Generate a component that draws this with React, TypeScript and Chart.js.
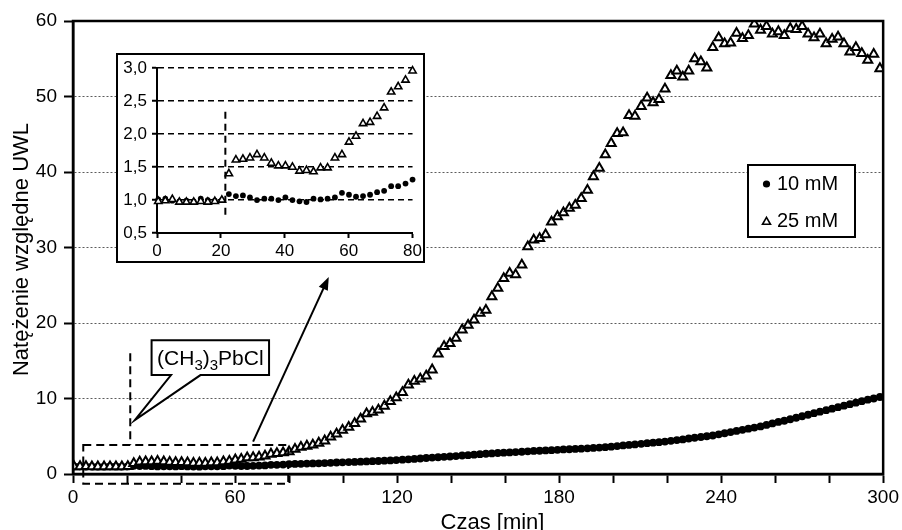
import React, { useEffect, useRef } from "react";
import { Chart, registerables } from "chart.js";

Chart.register(...registerables);

const FONT = "'Liberation Sans', Arial, sans-serif";

// Sample times [min]
const TIME_MIN = [
  0.4, 2.6, 4.8, 7.0, 9.2, 11.5, 13.7, 15.9, 18.1, 20.3,
  22.5, 24.7, 26.9, 29.1, 31.3, 33.6, 35.8, 38.0, 40.2, 42.4,
  44.6, 46.8, 49.0, 51.2, 53.4, 55.7, 57.9, 60.1, 62.3, 64.5,
  66.7, 68.9, 71.1, 73.3, 75.5, 77.8, 80.0, 82.2, 84.4, 86.6,
  88.8, 91.0, 93.2, 95.4, 97.6, 99.8, 102.1, 104.3, 106.5, 108.7,
  110.9, 113.1, 115.3, 117.5, 119.7, 122.0, 124.2, 126.4, 128.6, 130.8,
  133.0, 135.2, 137.4, 139.6, 141.8, 144.1, 146.3, 148.5, 150.7, 152.9,
  155.1, 157.3, 159.5, 161.7, 163.9, 166.2, 168.4, 170.6, 172.8, 175.0,
  177.2, 179.4, 181.6, 183.8, 186.0, 188.2, 190.5, 192.7, 194.9, 197.1,
  199.3, 201.5, 203.7, 205.9, 208.1, 210.4, 212.6, 214.8, 217.0, 219.2,
  221.4, 223.6, 225.8, 228.0, 230.2, 232.5, 234.7, 236.9, 239.1, 241.3,
  243.5, 245.7, 247.9, 250.1, 252.3, 254.6, 256.8, 259.0, 261.2, 263.4,
  265.6, 267.8, 270.0, 272.2, 274.4, 276.6, 278.9, 281.1, 283.3, 285.5,
  287.7, 289.9, 292.1, 294.3, 296.5, 298.8,
];

// Relative UWL intensity, 10 mM
const UWL_10MM = [
  1.01, 1.02, 0.99, 0.98, 0.99, 0.98, 1.02, 1.0, 0.99, 1.0,
  1.09, 1.06, 1.07, 1.04, 1.0, 1.02, 1.02, 1.0, 1.04, 1.0,
  0.98, 0.97, 1.02, 1.01, 1.02, 1.04, 1.11, 1.08, 1.05, 1.06,
  1.08, 1.12, 1.14, 1.21, 1.21, 1.25, 1.31,
  1.33, 1.35, 1.38, 1.4, 1.42, 1.45, 1.48, 1.52, 1.55,
  1.58, 1.6, 1.63, 1.66, 1.7, 1.72, 1.76, 1.8, 1.85,
  1.9, 1.95, 2.0, 2.05, 2.12, 2.18, 2.22, 2.28, 2.32,
  2.38, 2.45, 2.5, 2.56, 2.62, 2.68, 2.72, 2.78, 2.82,
  2.86, 2.9, 2.95, 3.0, 3.05, 3.08, 3.12, 3.15, 3.2,
  3.25, 3.28, 3.32, 3.35, 3.4, 3.45, 3.5, 3.55, 3.62,
  3.7, 3.78, 3.85, 3.92, 4.0, 4.08, 4.15, 4.22, 4.3,
  4.4, 4.5, 4.58, 4.7, 4.8, 4.9, 5.0, 5.1, 5.25,
  5.4, 5.55, 5.7, 5.85, 6.0, 6.15, 6.3, 6.5, 6.7,
  6.9, 7.05, 7.25, 7.45, 7.65, 7.85, 8.05, 8.25, 8.45,
  8.65, 8.85, 9.05, 9.25, 9.45, 9.65, 9.85, 10.0, 10.2,
];

// Relative UWL intensity, 25 mM
const UWL_25MM = [
  0.98, 0.99, 1.01, 0.97, 0.97, 0.97, 0.98, 0.97, 0.98, 1.0,
  1.4, 1.61, 1.62, 1.64, 1.69, 1.64, 1.56, 1.52, 1.52, 1.5,
  1.44, 1.45, 1.43, 1.49, 1.49, 1.64, 1.69, 1.88, 1.97, 2.16,
  2.18, 2.27, 2.4, 2.64, 2.72, 2.82, 2.96,
  3.3, 3.55, 3.7, 3.85, 4.1, 4.4, 4.9, 5.3, 5.8, 6.2,
  6.7, 7.3, 8.0, 8.2, 8.5, 9.0, 9.6, 10.1, 10.8, 11.8,
  12.3, 12.6, 13.0, 13.8, 15.9,
  16.9, 17.3, 18.0, 19.1, 19.7, 20.4, 21.3, 21.7, 23.5, 24.6,
  25.9, 26.6, 26.4, 27.7, 30.1, 31.0, 31.2, 31.7, 33.4, 34.1,
  34.6, 35.2, 35.6, 36.5, 37.6, 39.4,
  40.5, 42.3, 43.8, 45.1, 45.2, 47.5, 47.4, 48.7, 49.8, 49.2,
  49.6, 51.0, 52.8, 53.4, 52.6, 53.4, 55.0, 54.6, 53.8, 56.5,
  57.8, 57.0, 57.1, 58.4, 57.7, 58.1, 59.6, 58.8, 59.3, 58.3,
  58.6, 58.1, 59.0, 58.9, 59.3, 58.3, 57.8, 58.3, 57.0, 57.6,
  57.9, 57.0, 55.9, 56.5, 55.7, 54.8, 55.6, 53.7,
];

const SERIES_LABELS = ["10 mM", "25 mM"];
const MAIN_X_LABELS = [0, 60, 120, 180, 240, 300];
const INSET_MAX_TIME = 80;
const REAGENT_TIME = 21.2; // moment of (CH3)3PbCl addition

function points(values: number[], maxT = Infinity) {
  const out: { x: number; y: number }[] = [];
  TIME_MIN.forEach((t, i) => {
    if (t <= maxT) out.push({ x: t, y: values[i] });
  });
  return out;
}

function drawTriangle(ctx: CanvasRenderingContext2D, x: number, y: number, r: number) {
  ctx.beginPath();
  ctx.moveTo(x, y - r);
  ctx.lineTo(x + r * 0.866, y + r * 0.5);
  ctx.lineTo(x - r * 0.866, y + r * 0.5);
  ctx.closePath();
}

const mainDecor = {
  id: "mainDecor",
  afterDraw(chart: any) {
    const { ctx, chartArea: ca, scales } = chart;
    const xs = scales.x;
    const ys = scales.y;
    const px = (t: number) => xs.getPixelForValue(t);
    const py = (v: number) => ys.getPixelForValue(v);
    ctx.save();
    // frame
    ctx.strokeStyle = "#000";
    ctx.lineWidth = 2.5;
    ctx.setLineDash([]);
    ctx.strokeRect(ca.left, ca.top, ca.right - ca.left, ca.bottom - ca.top);

    // dashed zoom rectangle
    ctx.lineWidth = 2;
    ctx.setLineDash([8, 5]);
    ctx.strokeRect(px(3.8), py(3.84), px(79.7) - px(3.8), py(-1.3) - py(3.84));
    // vertical dashed line at reagent addition
    ctx.beginPath();
    ctx.moveTo(px(REAGENT_TIME), py(16));
    ctx.lineTo(px(REAGENT_TIME), py(3.84));
    ctx.stroke();
    ctx.setLineDash([]);

    // callout
    const L = px(29.1), R = px(72.6), T = py(17.7), B = py(13.1);
    ctx.beginPath();
    ctx.moveTo(L, T);
    ctx.lineTo(R, T);
    ctx.lineTo(R, B);
    ctx.lineTo(px(47.2), B);
    ctx.lineTo(px(22.9), py(7.15));
    ctx.lineTo(px(36.3), B);
    ctx.lineTo(L, B);
    ctx.closePath();
    ctx.fillStyle = "#fff";
    ctx.fill();
    ctx.lineWidth = 2;
    ctx.strokeStyle = "#000";
    ctx.stroke();
    const parts: [string, boolean][] = [["(CH", false], ["3", true], [")", false], ["3", true], ["PbCl", false]];
    const big = `21px ${FONT}`, small = `15px ${FONT}`;
    let w = 0;
    parts.forEach(([s, sub]) => { ctx.font = sub ? small : big; w += ctx.measureText(s).width; });
    let cx = (L + R) / 2 - w / 2;
    const base = (T + B) / 2 + 7;
    ctx.fillStyle = "#000";
    ctx.textBaseline = "alphabetic";
    ctx.textAlign = "left";
    parts.forEach(([s, sub]) => {
      ctx.font = sub ? small : big;
      ctx.fillText(s, cx, sub ? base + 5 : base);
      cx += ctx.measureText(s).width;
    });

    // arrow
    const x1 = px(66.7), y1 = py(4.28), x2 = px(94.7), y2 = py(26.1);
    const ang = Math.atan2(y2 - y1, x2 - x1);
    const hl = 13, hw = 5;
    ctx.beginPath();
    ctx.moveTo(x1, y1);
    ctx.lineTo(x2 - hl * 0.8 * Math.cos(ang), y2 - hl * 0.8 * Math.sin(ang));
    ctx.lineWidth = 2;
    ctx.stroke();
    ctx.beginPath();
    ctx.moveTo(x2, y2);
    ctx.lineTo(x2 - hl * Math.cos(ang) + hw * Math.sin(ang), y2 - hl * Math.sin(ang) - hw * Math.cos(ang));
    ctx.lineTo(x2 - hl * Math.cos(ang) - hw * Math.sin(ang), y2 - hl * Math.sin(ang) + hw * Math.cos(ang));
    ctx.closePath();
    ctx.fill();

    // legend
    const lx = 748, ly = 165, lw = 107, lh = 72;
    ctx.fillStyle = "#fff";
    ctx.fillRect(lx, ly, lw, lh);
    ctx.lineWidth = 2;
    ctx.strokeRect(lx, ly, lw, lh);
    ctx.fillStyle = "#000";
    ctx.beginPath();
    ctx.arc(lx + 18.5, ly + 19, 3.6, 0, Math.PI * 2);
    ctx.fill();
    drawTriangle(ctx, lx + 18.5, ly + 57, 4.6);
    ctx.fillStyle = "#fff";
    ctx.fill();
    ctx.lineWidth = 1.6;
    ctx.stroke();
    ctx.fillStyle = "#000";
    ctx.font = `20px ${FONT}`;
    ctx.textBaseline = "middle";
    ctx.fillText(SERIES_LABELS[0], lx + 29, ly + 19);
    ctx.fillText(SERIES_LABELS[1], lx + 29, ly + 56);

    // axis titles
    ctx.font = `22px ${FONT}`;
    ctx.textAlign = "center";
    ctx.textBaseline = "alphabetic";
    ctx.fillText("Czas [min]", 492.5, 529);
    ctx.save();
    ctx.translate(28, (ca.top + ca.bottom) / 2 + 2);
    ctx.rotate(-Math.PI / 2);
    ctx.fillText("Natężenie względne UWL", 0, 0);
    ctx.restore();
    ctx.restore();
  },
};

const insetDecor = {
  id: "insetDecor",
  beforeDraw(chart: any) {
    const { ctx, width, height } = chart;
    ctx.save();
    ctx.fillStyle = "#fff";
    ctx.fillRect(0, 0, width, height);
    ctx.restore();
  },
  afterDatasetsDraw(chart: any) {
    const { ctx, scales } = chart;
    ctx.save();
    ctx.strokeStyle = "#000";
    ctx.lineWidth = 2;
    ctx.setLineDash([7, 5]);
    const x = scales.x.getPixelForValue(REAGENT_TIME + 0.2);
    ctx.beginPath();
    ctx.moveTo(x, scales.y.getPixelForValue(2.34));
    ctx.lineTo(x, scales.y.getPixelForValue(0.7));
    ctx.stroke();
    ctx.restore();
  },
  afterDraw(chart: any) {
    const { ctx, width, height } = chart;
    ctx.save();
    ctx.strokeStyle = "#000";
    ctx.lineWidth = 2;
    ctx.setLineDash([]);
    ctx.strokeRect(1, 1, width - 2, height - 2);
    ctx.restore();
  },
};

export default function App() {
  const mainRef = useRef<HTMLCanvasElement>(null);
  const insetRef = useRef<HTMLCanvasElement>(null);

  useEffect(() => {
    document.body.style.margin = "0";
    const tickFont = { family: FONT, size: 19 };
    const main = new Chart(mainRef.current!, {
      type: "scatter",
      data: {
        datasets: [
          {
            label: SERIES_LABELS[1],
            data: points(UWL_25MM),
            pointStyle: "triangle",
            pointRadius: 5.2,
            pointBorderWidth: 2,
            pointBackgroundColor: "#fff",
            pointBorderColor: "#000",
            order: 0,
          },
          {
            label: SERIES_LABELS[0],
            data: points(UWL_10MM),
            pointStyle: "circle",
            pointRadius: 3.9,
            pointBorderWidth: 0,
            pointBackgroundColor: "#000",
            pointBorderColor: "#000",
            order: 1,
          },
        ],
      },
      options: {
        animation: false,
        responsive: false,
        devicePixelRatio: 1,
        layout: { padding: { left: 0, top: 21, right: 18, bottom: 0 } },
        plugins: { legend: { display: false }, tooltip: { enabled: false } },
        scales: {
          x: {
            type: "linear",
            min: 0,
            max: 300,
            afterFit(s: any) { s.height = 56; },
            ticks: {
              stepSize: 20,
              autoSkip: false,
              maxRotation: 0,
              callback: (v: any) => (MAIN_X_LABELS.includes(Number(v)) ? String(v) : ""),
              font: tickFont,
              color: "#000",
              padding: 3,
            },
            grid: { drawOnChartArea: false, drawTicks: true, tickLength: 9, tickColor: "#000", tickWidth: 2 },
            border: { display: true, color: "#000", width: 2.5 },
          },
          y: {
            type: "linear",
            min: 0,
            max: 60,
            afterFit(s: any) { s.width = 73; },
            ticks: { stepSize: 10, font: tickFont, color: "#000", padding: 7 },
            grid: { color: "#333", lineWidth: 0.8, tickLength: 9, tickColor: "#000", tickWidth: 2, tickBorderDash: [] } as any,
            border: { display: true, color: "#000", width: 2.5, dash: [2, 2] },
          },
        },
      },
      plugins: [mainDecor],
    });

    const insetFont = { family: FONT, size: 17 };
    const inset = new Chart(insetRef.current!, {
      type: "scatter",
      data: {
        datasets: [
          {
            label: SERIES_LABELS[1],
            data: points(UWL_25MM, INSET_MAX_TIME),
            pointStyle: "triangle",
            pointRadius: 4.2,
            pointBorderWidth: 1.6,
            pointBackgroundColor: "#fff",
            pointBorderColor: "#000",
            clip: false,
            order: 0,
          },
          {
            label: SERIES_LABELS[0],
            data: points(UWL_10MM, INSET_MAX_TIME),
            pointStyle: "circle",
            pointRadius: 2.9,
            pointBorderWidth: 0,
            pointBackgroundColor: "#000",
            clip: false,
            order: 1,
          },
        ],
      },
      options: {
        animation: false,
        responsive: false,
        devicePixelRatio: 1,
        layout: { padding: { left: 0, top: 11, right: 7, bottom: 0 } },
        plugins: { legend: { display: false }, tooltip: { enabled: false } },
        scales: {
          x: {
            type: "linear",
            min: 0,
            max: INSET_MAX_TIME,
            afterFit(s: any) { s.height = 30; },
            ticks: { stepSize: 20, font: insetFont, color: "#000", padding: 3, maxRotation: 0 },
            grid: { drawOnChartArea: false, tickLength: 5, tickColor: "#000", tickWidth: 2 },
            border: { display: true, color: "#000", width: 2 },
          },
          y: {
            type: "linear",
            min: 0.5,
            max: 3.0,
            afterFit(s: any) { s.width = 41; },
            ticks: {
              stepSize: 0.5,
              font: insetFont,
              color: "#000",
              padding: 5,
              callback: (v: any) => Number(v).toFixed(1).replace(".", ","),
            },
            grid: { color: "#000", lineWidth: 1.5, tickLength: 5, tickColor: "#000", tickWidth: 2, tickBorderDash: [] } as any,
            border: { display: true, color: "#000", width: 2, dash: [6, 4] },
          },
        },
      },
      plugins: [insetDecor],
    });

    return () => {
      main.destroy();
      inset.destroy();
    };
  }, []);

  return (
    <div style={{ position: "relative", width: 902, height: 530, background: "#fff", overflow: "hidden" }}>
      <canvas ref={mainRef} width={902} height={530} style={{ position: "absolute", left: 0, top: 0 }} />
      <canvas ref={insetRef} width={309} height={210} style={{ position: "absolute", left: 116, top: 53 }} />
    </div>
  );
}
